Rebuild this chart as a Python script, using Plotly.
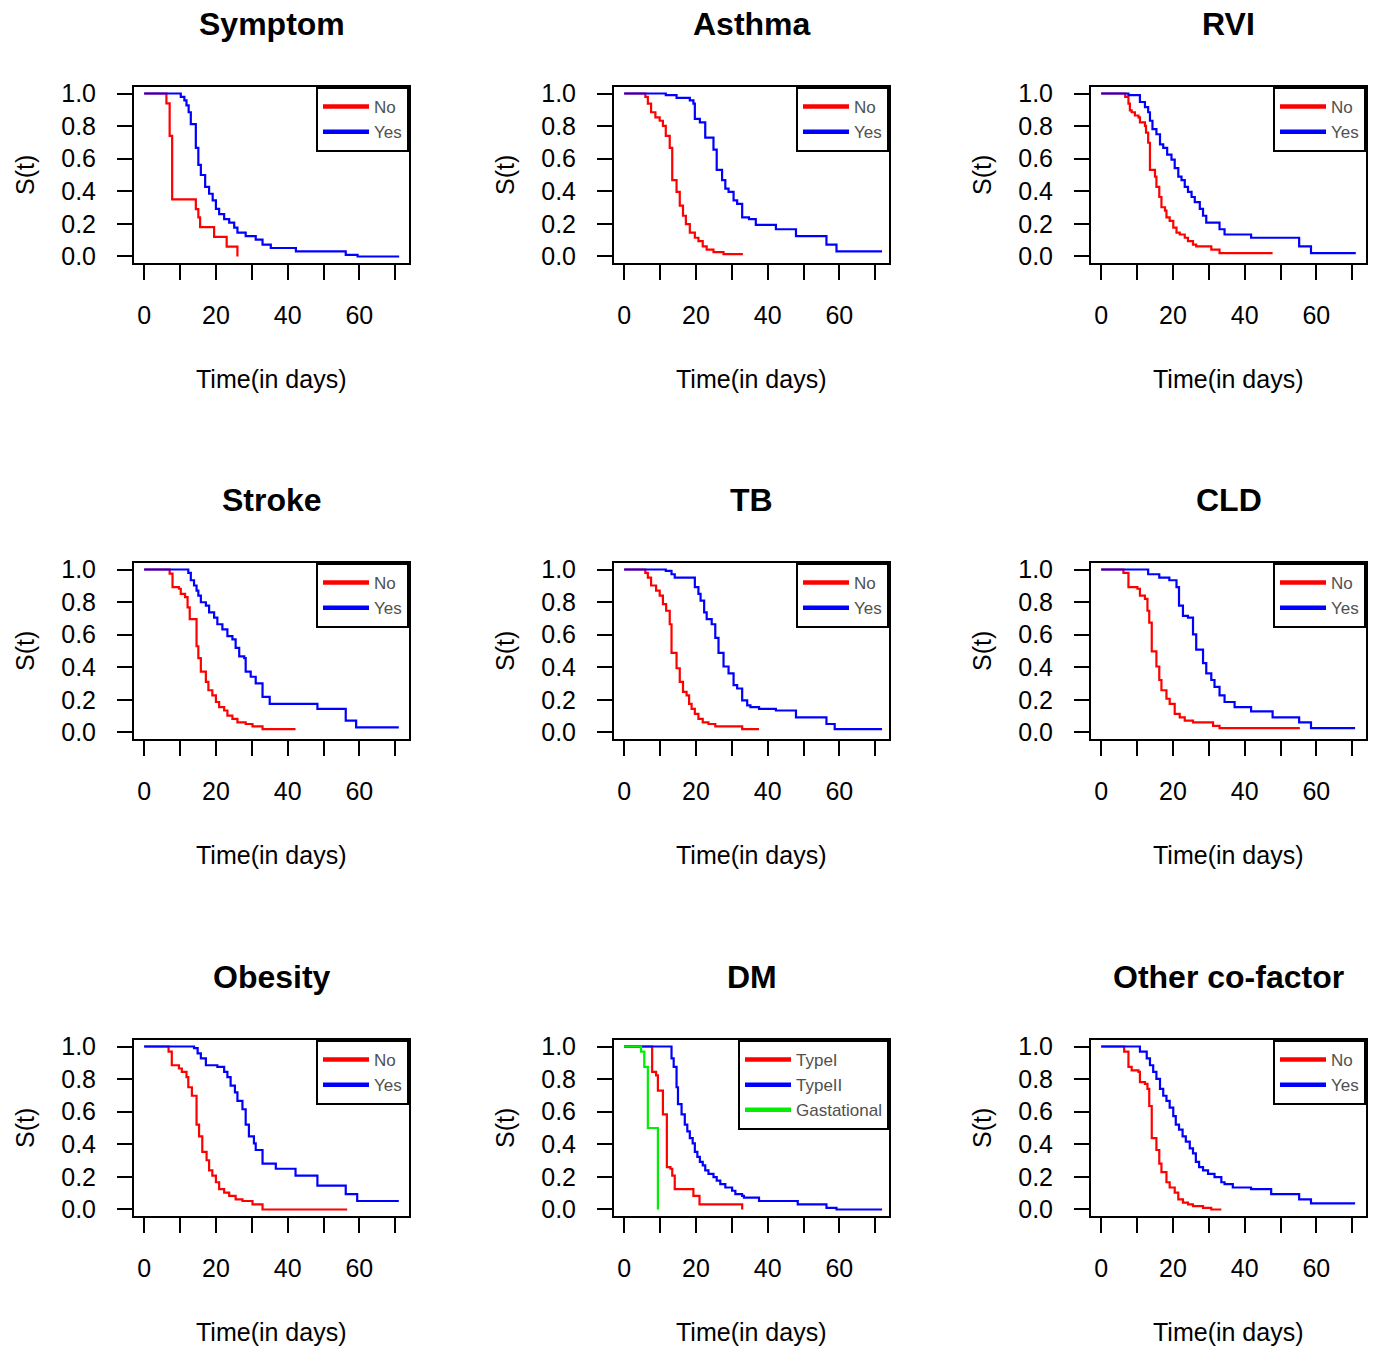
import plotly.graph_objects as go

# ---------------------------------------------------------------------------
# Kaplan-Meier survival estimates: event times (days) and S(t) after each step.
# A series with an *_end value stays flat until that (censored) time.
# ---------------------------------------------------------------------------
panel_titles = ["Symptom", "Asthma", "RVI", "Stroke", "TB", "CLD",
                "Obesity", "DM", "Other co-factor"]

x_tick_labels = [0, 20, 40, 60]
y_tick_labels = [0.0, 0.2, 0.4, 0.6, 0.8, 1.0]

# Symptom
symptom_no_t = [6.2, 7.1, 7.8, 14.4, 15.1, 15.6, 19.5, 23.0, 26.0]
symptom_no_s = [0.94, 0.74, 0.35, 0.29, 0.24, 0.18, 0.12, 0.06, 0.0]
symptom_no_end = None
symptom_yes_t = [10.2, 11.2, 11.8, 12.4, 13.0, 14.4, 15.1, 15.8, 17.0, 18.1, 19.1, 20.0,
                 20.9, 22.3, 23.7, 25.1, 26.0, 28.3, 31.1, 33.0, 35.3, 42.3, 56.2, 59.5]
symptom_yes_s = [0.979, 0.958, 0.927, 0.885, 0.8125, 0.667, 0.5625, 0.5, 0.427, 0.385, 0.344, 0.292,
                 0.26, 0.229, 0.208, 0.177, 0.146, 0.125, 0.104, 0.073, 0.052, 0.031, 0.01, 0.0]
symptom_yes_end = 71.1

# Asthma
asthma_no_t = [5.9, 6.6, 7.5, 8.7, 9.9, 10.8, 11.6, 12.7, 13.4, 14.6, 15.5, 16.4, 17.2, 18.3,
               19.7, 20.7, 21.9, 23.0, 24.9, 27.7]
asthma_no_s = [0.979, 0.9375, 0.885, 0.854, 0.833, 0.802, 0.74, 0.667, 0.469, 0.396, 0.3125, 0.25,
               0.198, 0.146, 0.115, 0.094, 0.0625, 0.042, 0.027, 0.015]
asthma_no_end = 33.1
asthma_yes_t = [11.6, 14.6, 18.3, 19.3, 19.7, 21.1, 22.6, 24.9, 25.8, 27.3, 28.2, 29.1, 30.5,
                31.5, 32.9, 34.8, 36.7, 42.3, 47.9, 56.4, 59.2]
asthma_yes_s = [0.99, 0.973, 0.958, 0.9375, 0.844, 0.823, 0.729, 0.656, 0.531, 0.469, 0.417, 0.396,
                0.344, 0.323, 0.24, 0.229, 0.194, 0.167, 0.125, 0.073, 0.031]
asthma_yes_end = 71.9

# RVI
rvi_no_t = [6.7, 7.6, 8.0, 8.5, 9.4, 10.4, 10.8, 12.2, 12.5, 13.1, 13.6, 15.0, 15.4, 16.2,
            16.8, 17.8, 18.2, 19.1, 20.1, 21.0, 21.9, 23.3, 24.2, 25.6, 26.5, 30.7, 33.0]
rvi_no_s = [0.979, 0.9375, 0.896, 0.885, 0.865, 0.854, 0.823, 0.802, 0.76, 0.698, 0.531, 0.49,
            0.427, 0.365, 0.302, 0.281, 0.24, 0.219, 0.177, 0.146, 0.135, 0.115, 0.094, 0.073,
            0.0625, 0.042, 0.021]
rvi_no_end = 47.8
rvi_yes_t = [7.6, 10.8, 12.2, 13.1, 13.6, 14.3, 15.4, 16.4, 17.3, 18.4, 19.6, 20.5, 21.5,
             22.4, 23.3, 24.2, 25.2, 26.1, 27.5, 28.4, 29.3, 33.0, 34.4, 41.8, 55.2, 58.5]
rvi_yes_s = [0.99, 0.948, 0.917, 0.885, 0.833, 0.781, 0.75, 0.6875, 0.667, 0.625, 0.594, 0.542,
             0.49, 0.469, 0.427, 0.396, 0.365, 0.333, 0.292, 0.25, 0.208, 0.167, 0.135, 0.115,
             0.0625, 0.021]
rvi_yes_end = 71.0

# Stroke
stroke_no_t = [7.1, 7.9, 9.7, 10.2, 11.4, 12.1, 12.7, 14.6, 15.1, 15.8, 17.2, 17.9, 19.0,
               20.0, 20.9, 22.3, 23.2, 24.6, 26.0, 28.3, 30.2, 33.0]
stroke_no_s = [0.975, 0.892, 0.882, 0.851, 0.830, 0.768, 0.695, 0.529, 0.456, 0.373, 0.311,
               0.259, 0.228, 0.187, 0.156, 0.135, 0.104, 0.083, 0.062, 0.052, 0.037, 0.021]
stroke_no_end = 42.2
stroke_yes_t = [12.3, 13.0, 13.9, 14.6, 15.1, 15.8, 17.2, 18.1, 19.5, 20.4, 21.8, 23.2, 24.6,
                25.5, 26.5, 27.9, 28.3, 29.7, 31.1, 33.0, 35.0, 48.3, 56.2, 59.1]
stroke_yes_s = [0.979, 0.934, 0.902, 0.871, 0.840, 0.799, 0.778, 0.737, 0.705, 0.664, 0.633,
                0.591, 0.571, 0.519, 0.467, 0.456, 0.373, 0.342, 0.301, 0.218, 0.176, 0.145,
                0.073, 0.031]
stroke_yes_end = 71.0

# TB
tb_no_t = [5.9, 6.6, 7.5, 8.9, 9.9, 10.8, 11.7, 12.7, 13.2, 14.6, 15.5, 16.4, 17.4, 18.1,
           18.8, 19.7, 20.7, 21.9, 23.5, 25.4, 32.9]
tb_no_s = [0.979, 0.950, 0.902, 0.871, 0.840, 0.788, 0.747, 0.664, 0.488, 0.394, 0.311, 0.249,
           0.228, 0.176, 0.145, 0.114, 0.083, 0.062, 0.052, 0.037, 0.021]
tb_no_end = 37.6
tb_yes_t = [11.6, 13.2, 14.1, 19.7, 20.7, 21.3, 22.3, 23.0, 24.4, 25.4, 26.3, 27.7, 29.1,
            30.5, 31.5, 32.9, 34.3, 35.2, 37.6, 42.3, 47.9, 56.4, 58.7]
tb_yes_s = [0.992, 0.971, 0.950, 0.892, 0.851, 0.809, 0.737, 0.695, 0.664, 0.581, 0.488, 0.405,
            0.363, 0.290, 0.270, 0.197, 0.166, 0.156, 0.145, 0.135, 0.093, 0.052, 0.021]
tb_yes_end = 71.9

# CLD
cld_no_t = [6.2, 7.6, 10.1, 10.8, 12.2, 12.9, 13.4, 14.1, 15.4, 16.2, 16.8, 18.2, 19.1, 20.5,
            21.9, 23.3, 25.6, 31.2, 33.0]
cld_no_s = [0.979, 0.892, 0.882, 0.840, 0.820, 0.747, 0.674, 0.498, 0.405, 0.322, 0.259, 0.207,
            0.176, 0.114, 0.093, 0.073, 0.062, 0.041, 0.027]
cld_no_end = 55.4
cld_yes_t = [13.1, 16.2, 19.0, 21.0, 21.7, 22.8, 24.2, 25.6, 26.5, 28.4, 29.3, 30.7, 31.6,
             33.0, 34.4, 37.2, 41.8, 47.8, 55.2, 58.5]
cld_yes_s = [0.971, 0.950, 0.934, 0.892, 0.778, 0.716, 0.705, 0.602, 0.508, 0.425, 0.363, 0.322,
             0.280, 0.228, 0.187, 0.156, 0.129, 0.093, 0.062, 0.027]
cld_yes_end = 70.8

# Obesity
obesity_no_t = [6.8, 7.7, 9.7, 10.5, 11.8, 12.3, 13.3, 14.6, 15.3, 16.2, 17.4, 18.1, 19.0,
                20.0, 20.9, 22.3, 23.7, 25.5, 27.4, 30.2, 33.0]
obesity_no_s = [0.969, 0.885, 0.865, 0.844, 0.8125, 0.75, 0.698, 0.521, 0.448, 0.354, 0.302,
                0.24, 0.208, 0.167, 0.125, 0.104, 0.083, 0.0625, 0.052, 0.031, 0.0]
obesity_no_end = 56.6
obesity_yes_t = [13.9, 14.9, 15.8, 17.2, 20.4, 22.3, 23.2, 24.1, 25.3, 26.0, 27.4, 28.3, 29.2,
                 30.6, 31.1, 33.0, 36.7, 42.2, 48.3, 56.2, 59.4]
obesity_yes_s = [0.99, 0.958, 0.927, 0.885, 0.875, 0.844, 0.8125, 0.76, 0.719, 0.667, 0.615,
                 0.521, 0.448, 0.406, 0.365, 0.281, 0.25, 0.208, 0.146, 0.094, 0.052]
obesity_yes_end = 71.0

# DM
dm_type1_t = [7.8, 8.9, 9.4, 10.8, 11.9, 12.9, 13.4, 14.1, 19.3, 21.0, 32.9]
dm_type1_s = [0.844, 0.823, 0.729, 0.583, 0.26, 0.25, 0.208, 0.125, 0.083, 0.031, 0.0]
dm_type1_end = None
dm_type2_t = [13.2, 13.8, 14.6, 15.0, 16.0, 16.9, 17.6, 18.3, 19.1, 19.7, 20.4, 21.1, 21.9,
              22.6, 23.5, 24.9, 25.8, 26.8, 28.2, 30.1, 31.0, 32.9, 33.4, 37.6, 48.4, 56.4, 59.2]
dm_type2_s = [0.927, 0.875, 0.75, 0.646, 0.583, 0.521, 0.479, 0.4375, 0.406, 0.354, 0.323,
              0.292, 0.271, 0.24, 0.219, 0.198, 0.177, 0.156, 0.135, 0.115, 0.094, 0.083,
              0.073, 0.052, 0.031, 0.01, 0.0]
dm_type2_end = 71.9
dm_gest_t = [4.7, 5.6, 6.6, 9.4]
dm_gest_s = [0.969, 0.875, 0.5, 0.0]
dm_gest_end = None

# Other co-factor
other_no_t = [6.4, 7.6, 8.5, 10.4, 10.8, 12.2, 12.9, 13.4, 14.1, 15.4, 16.2, 16.8, 18.2, 19.1,
              20.5, 21.5, 22.8, 24.2, 25.6, 28.4, 30.7]
other_no_s = [0.969, 0.875, 0.854, 0.844, 0.781, 0.771, 0.740, 0.635, 0.4375, 0.365, 0.281,
              0.229, 0.167, 0.135, 0.104, 0.0625, 0.042, 0.031, 0.021, 0.01, 0.0]
other_no_end = 33.5
other_yes_t = [10.8, 12.7, 13.6, 14.5, 15.4, 16.4, 17.3, 18.2, 19.1, 20.1, 20.8, 21.7, 22.7,
               23.6, 24.7, 25.6, 26.4, 27.3, 28.4, 29.8, 31.6, 33.5, 34.4, 36.7, 41.8, 47.4,
               55.2, 58.5]
other_yes_s = [0.969, 0.927, 0.885, 0.844, 0.802, 0.74, 0.698, 0.667, 0.625, 0.573, 0.521, 0.49,
               0.448, 0.417, 0.375, 0.344, 0.292, 0.26, 0.24, 0.219, 0.198, 0.167, 0.156, 0.135,
               0.125, 0.094, 0.0625, 0.0375]
other_yes_end = 70.8

RED, BLUE, GREEN = "#ff0000", "#0000ff", "#00ee00"

# (label, colour, times, survival, end) per curve, one list per panel
panels = [
    [("No", RED, symptom_no_t, symptom_no_s, symptom_no_end),
     ("Yes", BLUE, symptom_yes_t, symptom_yes_s, symptom_yes_end)],
    [("No", RED, asthma_no_t, asthma_no_s, asthma_no_end),
     ("Yes", BLUE, asthma_yes_t, asthma_yes_s, asthma_yes_end)],
    [("No", RED, rvi_no_t, rvi_no_s, rvi_no_end),
     ("Yes", BLUE, rvi_yes_t, rvi_yes_s, rvi_yes_end)],
    [("No", RED, stroke_no_t, stroke_no_s, stroke_no_end),
     ("Yes", BLUE, stroke_yes_t, stroke_yes_s, stroke_yes_end)],
    [("No", RED, tb_no_t, tb_no_s, tb_no_end),
     ("Yes", BLUE, tb_yes_t, tb_yes_s, tb_yes_end)],
    [("No", RED, cld_no_t, cld_no_s, cld_no_end),
     ("Yes", BLUE, cld_yes_t, cld_yes_s, cld_yes_end)],
    [("No", RED, obesity_no_t, obesity_no_s, obesity_no_end),
     ("Yes", BLUE, obesity_yes_t, obesity_yes_s, obesity_yes_end)],
    [("TypeI", RED, dm_type1_t, dm_type1_s, dm_type1_end),
     ("TypeII", BLUE, dm_type2_t, dm_type2_s, dm_type2_end),
     ("Gastational", GREEN, dm_gest_t, dm_gest_s, dm_gest_end)],
    [("No", RED, other_no_t, other_no_s, other_no_end),
     ("Yes", BLUE, other_yes_t, other_yes_s, other_yes_end)],
]


def km_steps(times, surv, end):
    xs = [0.0] + list(times)
    ys = [1.0] + list(surv)
    if end is not None:
        xs.append(end)
        ys.append(surv[-1])
    return xs, ys


W, H = 1378, 1350
BOX_LEFT = [134, 614, 1091]
BOX_TOP = [87, 563, 1040]
BOX_W, BOX_H = 275, 176
FONT = "Liberation Sans, Arial, sans-serif"

fig = go.Figure()
layout = dict(
    width=W, height=H,
    margin=dict(l=0, r=0, t=0, b=0, autoexpand=False),
    paper_bgcolor="white", plot_bgcolor="white",
    font=dict(family=FONT, color="black"),
    annotations=[],
)

for i, (title, curves) in enumerate(zip(panel_titles, panels)):
    r, c = divmod(i, 3)
    n = "" if i == 0 else str(i + 1)
    x0 = BOX_LEFT[c] / W
    x1 = (BOX_LEFT[c] + BOX_W) / W
    y1 = 1 - BOX_TOP[r] / H
    y0 = 1 - (BOX_TOP[r] + BOX_H) / H
    legend_name = "legend" + n

    for label, colour, t, s, end in curves:
        xs, ys = km_steps(t, s, end)
        fig.add_trace(go.Scatter(
            x=xs, y=ys, mode="lines", name=label, showlegend=False,
            line=dict(color=colour, width=2.2, shape="hv"),
            xaxis="x" + n, yaxis="y" + n,
        ))
    # legend keys use a heavier stroke than the curves themselves
    for label, colour, t, s, end in curves:
        fig.add_trace(go.Scatter(
            x=[None], y=[None], mode="lines", name=label,
            line=dict(color=colour, width=4.5),
            xaxis="x" + n, yaxis="y" + n, legend=legend_name,
        ))
    layout[legend_name] = dict(
        x=x1, y=y1, xanchor="right", yanchor="top", xref="paper", yref="paper",
        bgcolor="white", bordercolor="black", borderwidth=2,
        font=dict(size=17, color="#505050", family=FONT),
        itemwidth=46, tracegroupgap=0, traceorder="normal",
    )

    axis_common = dict(
        showline=True, mirror=True, linecolor="black", linewidth=2,
        ticks="outside", ticklen=15, tickwidth=2, tickcolor="black",
        showgrid=False, zeroline=False, fixedrange=True, automargin=False,
        tickfont=dict(size=25, family=FONT, color="black"),
    )
    layout["xaxis" + n] = dict(
        axis_common, domain=[x0, x1], anchor="y" + n,
        range=[-2.84, 73.84], tickmode="array", tickvals=x_tick_labels,
        ticklabelstandoff=14,
        minor=dict(tickmode="array", tickvals=[10, 30, 50, 70], ticks="outside",
                   ticklen=15, tickwidth=2, tickcolor="black", showgrid=False),
    )
    layout["yaxis" + n] = dict(
        axis_common, domain=[y0, y1], anchor="x" + n,
        range=[-0.04, 1.04], tickmode="array", tickvals=y_tick_labels,
        tickformat=".1f", ticklabelstandoff=16,
    )

    cx = (x0 + x1) / 2
    layout["annotations"] += [
        dict(text="<b>%s</b>" % title, x=cx, y=1 - (BOX_TOP[r] - 63) / H,
             xref="paper", yref="paper", xanchor="center", yanchor="middle",
             showarrow=False, font=dict(size=32, family=FONT, color="black")),
        dict(text="Time(in days)", x=cx, y=1 - (BOX_TOP[r] + BOX_H + 116) / H,
             xref="paper", yref="paper", xanchor="center", yanchor="middle",
             showarrow=False, font=dict(size=25, family=FONT, color="black")),
        dict(text="S(t)", x=(BOX_LEFT[c] - 109) / W, y=(y0 + y1) / 2,
             xref="paper", yref="paper", xanchor="center", yanchor="middle",
             textangle=-90, showarrow=False,
             font=dict(size=25, family=FONT, color="black")),
    ]

fig.update_layout(**layout)
fig.write_html("out.html")
